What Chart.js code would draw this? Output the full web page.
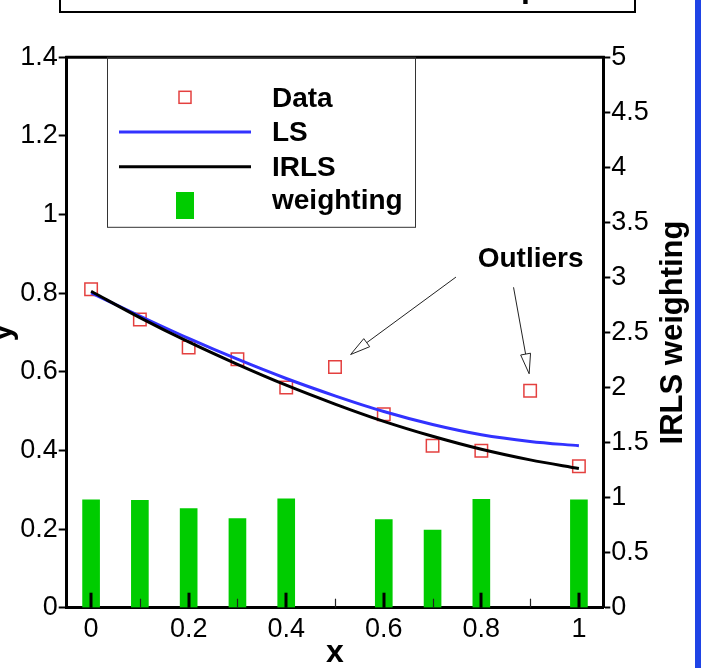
<!DOCTYPE html>
<html><head><meta charset="utf-8">
<script src="https://cdn.jsdelivr.net/npm/chart.js@4.4.0/dist/chart.umd.min.js"></script>
<style>html,body{margin:0;padding:0;background:#fff;overflow:hidden}canvas{display:block}</style>
</head><body>
<canvas id="c" width="701" height="668"></canvas>
<script>
// ---- data ----
const xValues   = [0, 0.1, 0.2, 0.3, 0.4, 0.5, 0.6, 0.7, 0.8, 0.9, 1.0];
const dataY     = [0.810, 0.733, 0.662, 0.632, 0.560, 0.612, 0.492, 0.412, 0.399, 0.552, 0.360];
const lsY       = [0.801, 0.742, 0.685, 0.632, 0.583, 0.539, 0.499, 0.466, 0.440, 0.423, 0.412];
const irlsY     = [0.805, 0.738, 0.676, 0.619, 0.566, 0.518, 0.474, 0.436, 0.403, 0.376, 0.354];
const weights   = [0.98, 0.975, 0.90, 0.81, 0.99, 0, 0.80, 0.705, 0.985, 0, 0.98];
const seriesLabels = ['Data', 'LS', 'IRLS', 'weighting'];
const xMajorTicks = [0, 0.2, 0.4, 0.6, 0.8, 1];
const xTickLabels = ['0', '0.2', '0.4', '0.6', '0.8', '1'];
const xMinorTicks = [0.1, 0.3, 0.5, 0.7, 0.9];
const yTicks      = [0, 0.2, 0.4, 0.6, 0.8, 1, 1.2, 1.4];
const yTickLabels = ['0', '0.2', '0.4', '0.6', '0.8', '1', '1.2', '1.4'];
const y2Ticks      = [0, 0.5, 1, 1.5, 2, 2.5, 3, 3.5, 4, 4.5, 5];
const y2TickLabels = ['0', '0.5', '1', '1.5', '2', '2.5', '3', '3.5', '4', '4.5', '5'];
const xTitle = 'x', yTitle = 'y', y2Title = 'IRLS weighting';
const topTitle = 'IRLS versus LS Fit Example';
const outlierLabel = 'Outliers';

// ---- styling / layout ----
const FONT = '"Liberation Sans", Arial, sans-serif';
const C_RED = '#e4403f', C_BLUE = '#3232ff', C_BLACK = '#000', C_GREEN = '#00cc00';
const annot = { // in data coordinates (x, left-y)
  text: {x: 0.901, y: 0.892},
  arrows: [
    {from: {x: 0.748, y: 0.841}, to: {x: 0.532, y: 0.644}},
    {from: {x: 0.866, y: 0.815}, to: {x: 0.898, y: 0.595}}
  ]
};

const pts = arr => xValues.map((x, i) => ({x, y: arr[i]}));

const decor = {
  id: 'decor',
  beforeDraw(chart) {
    const ctx = chart.ctx;
    ctx.save();
    ctx.fillStyle = '#fff';
    ctx.fillRect(0, 0, chart.width, chart.height);
    // partially visible title frame at top
    ctx.strokeStyle = '#000'; ctx.lineWidth = 2;
    ctx.strokeRect(60, -20, 575, 32);
    ctx.font = 'bold 32px ' + FONT;
    ctx.fillStyle = '#000'; ctx.textBaseline = 'alphabetic'; ctx.textAlign = 'left';
    const pre = topTitle.slice(0, topTitle.indexOf('p'));
    ctx.fillText(topTitle, 521 - ctx.measureText(pre).width, -3);
    // blue edge at right
    ctx.fillStyle = '#1f44e6';
    ctx.fillRect(695, 0, 6, chart.height);
    ctx.restore();
  },
  afterDatasetsDraw(chart) {
    const ctx = chart.ctx, a = chart.chartArea;
    const xs = chart.scales.x, ys = chart.scales.y;
    ctx.save();
    // top frame line
    ctx.strokeStyle = '#000'; ctx.lineWidth = 3;
    ctx.beginPath(); ctx.moveTo(a.left - 1.5, a.top); ctx.lineTo(a.right + 1.5, a.top); ctx.stroke();
    // inward x ticks
    ctx.lineWidth = 3;
    xMajorTicks.forEach(v => {
      const px = Math.round(xs.getPixelForValue(v));
      ctx.beginPath(); ctx.moveTo(px, a.bottom); ctx.lineTo(px, a.bottom - 15); ctx.stroke();
    });
    ctx.lineWidth = 1.2; ctx.strokeStyle = '#222';
    xMinorTicks.forEach(v => {
      const px = Math.round(xs.getPixelForValue(v)) + 0.5;
      ctx.beginPath(); ctx.moveTo(px, a.bottom); ctx.lineTo(px, a.bottom - 9); ctx.stroke();
    });
    // legend
    const L = {left: 106.7, right: 414.3, top: a.top, bottom: 227.3};
    ctx.strokeStyle = '#333'; ctx.lineWidth = 1;
    ctx.strokeRect(Math.round(L.left) + 0.5, L.top, Math.round(L.right - L.left), L.bottom - L.top);
    const ds = chart.data.datasets;
    const rowBase = [107.3, 141, 175.7, 209];
    const symX = 185;
    ctx.font = 'bold 28px ' + FONT;
    ctx.textAlign = 'left'; ctx.textBaseline = 'alphabetic';
    ds.forEach((d, i) => {
      const cy = rowBase[i] - 10;
      if (d.type === 'scatter') {
        ctx.strokeStyle = d.borderColor; ctx.lineWidth = 1.5;
        ctx.strokeRect(symX - 6, cy - 6, 12, 12);
      } else if (d.type === 'line') {
        ctx.strokeStyle = d.borderColor; ctx.lineWidth = 3;
        ctx.beginPath(); ctx.moveTo(119, cy + 1); ctx.lineTo(251, cy + 1); ctx.stroke();
      } else {
        ctx.fillStyle = C_GREEN;
        ctx.fillRect(176, cy - 7, 18, 27);
      }
      ctx.fillStyle = '#000';
      ctx.fillText(d.label, 272, rowBase[i]);
    });
    // annotations
    ctx.strokeStyle = '#222'; ctx.lineWidth = 1;
    annot.arrows.forEach(ar => {
      const x1 = xs.getPixelForValue(ar.from.x), y1 = ys.getPixelForValue(ar.from.y);
      const x2 = xs.getPixelForValue(ar.to.x), y2 = ys.getPixelForValue(ar.to.y);
      const ang = Math.atan2(y2 - y1, x2 - x1);
      const len = 20, hw = 5;
      const bx = x2 - len * Math.cos(ang), by = y2 - len * Math.sin(ang);
      ctx.beginPath(); ctx.moveTo(x1, y1); ctx.lineTo(bx, by); ctx.stroke();
      ctx.beginPath();
      ctx.moveTo(x2, y2);
      ctx.lineTo(bx + hw * Math.sin(ang), by - hw * Math.cos(ang));
      ctx.lineTo(bx - hw * Math.sin(ang), by + hw * Math.cos(ang));
      ctx.closePath();
      ctx.fillStyle = '#fff'; ctx.fill(); ctx.stroke();
    });
    ctx.fillStyle = '#000';
    ctx.font = 'bold 28px ' + FONT;
    ctx.textAlign = 'center'; ctx.textBaseline = 'alphabetic';
    ctx.fillText(outlierLabel, xs.getPixelForValue(annot.text.x), ys.getPixelForValue(annot.text.y) + 10);
    // axis titles
    ctx.font = 'bold 32px ' + FONT;
    ctx.fillText(xTitle, (a.left + a.right) / 2, 662);
    ctx.save();
    ctx.translate(10.5, (a.top + a.bottom) / 2);
    ctx.rotate(-Math.PI / 2);
    ctx.fillText(yTitle, 0, 0);
    ctx.restore();
    ctx.save();
    ctx.font = 'bold 31px ' + FONT;
    ctx.translate(682, (a.top + a.bottom) / 2);
    ctx.rotate(-Math.PI / 2);
    ctx.fillText(y2Title, 0, 0);
    ctx.restore();
    ctx.restore();
  }
};

new Chart(document.getElementById('c'), {
  data: {
    datasets: [
      {type: 'scatter', label: seriesLabels[0], data: pts(dataY), yAxisID: 'y',
       pointStyle: 'rect', pointRadius: 8.8, pointBorderWidth: 1.5,
       borderColor: C_RED, pointBorderColor: C_RED, pointBackgroundColor: 'rgba(0,0,0,0)', order: 3},
      {type: 'line', label: seriesLabels[1], data: pts(lsY), yAxisID: 'y',
       borderColor: C_BLUE, borderWidth: 3, pointRadius: 0, fill: false,
       cubicInterpolationMode: 'monotone', order: 2},
      {type: 'line', label: seriesLabels[2], data: pts(irlsY), yAxisID: 'y',
       borderColor: C_BLACK, borderWidth: 3, pointRadius: 0, fill: false,
       cubicInterpolationMode: 'monotone', order: 1},
      {type: 'bar', label: seriesLabels[3], data: pts(weights), yAxisID: 'y2',
       backgroundColor: c => (c.raw && c.raw.y > 0) ? C_GREEN : 'rgba(0,0,0,0)',
       borderWidth: 0, barThickness: 17, order: 4}
    ]
  },
  options: {
    responsive: false, animation: false, devicePixelRatio: 1,
    layout: {padding: {top: 57.3, left: 0, right: 0, bottom: 0}},
    plugins: {legend: {display: false}, tooltip: {enabled: false}},
    scales: {
      x: {
        type: 'linear', position: 'bottom', min: -0.05, max: 1.05, offset: false,
        afterBuildTicks: s => { s.ticks = xMajorTicks.map(v => ({value: v})); },
        afterFit: s => { s.height = 60.3; },
        grid: {display: false},
        border: {display: true, width: 3, color: '#000'},
        ticks: {color: '#000', font: {family: FONT, size: 27}, padding: -2,
                maxRotation: 0, autoSkip: false,
                callback: (v, i) => xTickLabels[i]}
      },
      y: {
        type: 'linear', position: 'left', min: 0, max: 1.4,
        afterBuildTicks: s => { s.ticks = yTicks.map(v => ({value: v})); },
        afterFit: s => { s.width = 66.7; },
        grid: {display: true, drawOnChartArea: false, drawTicks: true, tickLength: 8, tickWidth: 2, tickColor: '#000'},
        border: {display: true, width: 3, color: '#000'},
        ticks: {color: '#000', font: {family: FONT, size: 27}, padding: 1, autoSkip: false,
                callback: (v, i) => yTickLabels[i]}
      },
      y2: {
        type: 'linear', position: 'right', min: 0, max: 5,
        afterBuildTicks: s => { s.ticks = y2Ticks.map(v => ({value: v})); },
        afterFit: s => { s.width = 97.7; },
        grid: {display: true, drawOnChartArea: false, drawTicks: true, tickLength: 7, tickWidth: 2, tickColor: '#000'},
        border: {display: true, width: 3, color: '#000'},
        ticks: {color: '#000', font: {family: FONT, size: 27}, padding: 1, autoSkip: false,
                callback: (v, i) => y2TickLabels[i]}
      }
    }
  },
  plugins: [decor]
});
</script>
</body></html>
